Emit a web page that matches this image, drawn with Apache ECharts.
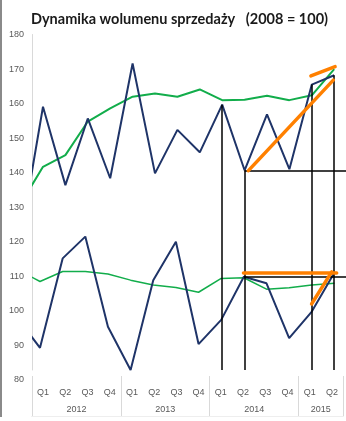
<!DOCTYPE html>
<html>
<head>
<meta charset="utf-8">
<script src="https://cdn.jsdelivr.net/npm/echarts@6/dist/echarts.min.js"></script>
<style>
  html, body { margin: 0; padding: 0; background: #fff; }
  #wrap { position: relative; width: 346px; height: 421px; }
  #chart { width: 346px; height: 421px; }
  #edge { position: absolute; left: 0; top: 0; width: 2px; height: 417px; background: #8a8a8a; }
</style>
</head>
<body>
<div id="wrap"><div id="chart"></div><div id="edge"></div></div>
<script>
// ---- data (first value in each series = 2011 Q4, only partly visible at the left edge) ----
const years = ['2012', '2013', '2014', '2015'];
const quartersPerYear = [4, 4, 4, 2];
const quarterNames = ['Q1', 'Q2', 'Q3', 'Q4'];
const yTicks = [80, 90, 100, 110, 120, 130, 140, 150, 160, 170, 180];

const upperIndex = [121, 159.1, 136.4, 155.7, 138.4, 171.6, 139.8, 152.4, 145.9, 159.7, 140.7, 156.9, 141.0, 165.5, 168.2];
const upperTrend = [131, 141.7, 145.1, 154.8, 158.6, 162.0, 162.9, 162.0, 164.1, 161.0, 161.1, 162.3, 161.0, 162.4, 170.0];
const lowerIndex = [98, 89.3, 115.2, 121.5, 95.4, 82.9, 108.9, 120.0, 90.4, 97.4, 109.9, 108.0, 92.1, 99.8, 111.1];
const lowerTrend = [112, 108.5, 111.4, 111.4, 110.7, 108.9, 107.5, 106.8, 105.4, 109.4, 109.6, 106.3, 106.7, 107.5, 108.0];

// annotations (quarter index, value); quarter index 0 = 2012 Q1
const dropQuarters = [8, 9, 12, 13];      // black drop lines from upper index
const plotFloor = 82.9;
const refQuarter = 9;                      // 2014 Q2 horizontal reference lines
const orangeUp   = [[9.17, 140.6], [12.96, 166.8]];
const orangeTop  = [[11.96, 168.0], [13.04, 170.7]];
const orangeFlat = [[8.95, 111.0], [13.11, 111.0]];
const orangeRise = [[11.99, 102.0], [12.89, 111.3]];

// ---- derived ----
const quarterLabels = [];
quartersPerYear.forEach(n => { for (let q = 0; q < n; q++) quarterLabels.push(quarterNames[q]); });
const nQ = quarterLabels.length;
const yearSlots = new Array(nQ * 2 + 1).fill('');
const yearBounds = [0];
let acc = 0;
quartersPerYear.forEach((n, k) => {
  yearSlots[acc * 2 + n] = years[k];
  acc += n;
  yearBounds.push(acc * 2);
});
const toXY = arr => arr.map((v, k) => [k - 1, v]);

const upMin = -0.446, upMax = 13.527;
const loMin = -0.309, loMax = 13.51;

const navy = '#1F3468';
const green = '#12AD4B';
const orange = '#FF8000';
const labelFont = { fontFamily: 'Liberation Sans', fontSize: 9, color: '#595959' };

const chart = echarts.init(document.getElementById('chart'), null, { renderer: 'canvas' });
chart.setOption({
  animation: false,
  backgroundColor: '#fff',
  title: {
    text: 'Dynamika wolumenu sprzedaży   (2008 = 100)',
    left: 26, top: 7,
    textStyle: { fontFamily: 'Lato', fontWeight: 'bold', fontSize: 14.5, color: '#1a1a1a' }
  },
  grid: [
    { left: 32, right: 0, top: 34.5, bottom: 41 },
    { left: 32, right: 0, top: 34.5, bottom: 51 },
    { left: 33, right: 0, top: 34.5, bottom: 41 },
    { left: 33, right: 0, top: 34.5, bottom: 41 },
    { left: 32, right: 0, top: 376, bottom: 5 }
  ],
  xAxis: [
    { gridIndex: 0, type: 'value', show: false },
    { gridIndex: 1, type: 'value', show: false },
    { gridIndex: 2, type: 'value', min: upMin, max: upMax, show: false },
    { gridIndex: 3, type: 'value', min: loMin, max: loMax, show: false },
    { gridIndex: 4, type: 'category', position: 'top', data: quarterLabels, boundaryGap: true,
      axisLine: { show: true, lineStyle: { color: '#e3e3e3', width: 1 } },
      axisTick: { show: false }, splitLine: { show: false },
      axisLabel: Object.assign({ inside: true, margin: 12, interval: 0 }, labelFont) },
    { gridIndex: 4, type: 'category', position: 'bottom', data: yearSlots, boundaryGap: false,
      axisLine: { show: true, lineStyle: { color: '#eeeeee', width: 1 } },
      axisTick: { show: false },
      splitLine: { show: true, interval: (i) => yearBounds.includes(i), lineStyle: { color: '#d9d9d9', width: 1 } },
      axisLabel: Object.assign({ inside: true, margin: 1.5, interval: 0 }, labelFont) }
  ],
  yAxis: [
    { gridIndex: 0, type: 'value', min: yTicks[0], max: yTicks[yTicks.length - 1], interval: yTicks[1] - yTicks[0],
      axisLine: { show: false }, axisTick: { show: false }, splitLine: { show: false },
      axisLabel: Object.assign({ margin: 8 }, labelFont) },
    { gridIndex: 1, type: 'value', axisLine: { show: true, lineStyle: { color: '#d9d9d9' } },
      axisTick: { show: false }, axisLabel: { show: false }, splitLine: { show: false } },
    { gridIndex: 2, type: 'value', min: 80, max: 180, show: false },
    { gridIndex: 3, type: 'value', min: 80, max: 180, show: false },
    { gridIndex: 4, type: 'value', show: false }
  ],
  series: [
    { type: 'line', name: 'upperTrend', xAxisIndex: 2, yAxisIndex: 2, data: toXY(upperTrend),
      symbol: 'none', lineStyle: { color: green, width: 2 }, z: 3 },
    { type: 'line', name: 'upperIndex', xAxisIndex: 2, yAxisIndex: 2, data: toXY(upperIndex),
      symbol: 'none', lineStyle: { color: navy, width: 2 }, z: 4 },
    { type: 'line', name: 'lowerTrend', xAxisIndex: 3, yAxisIndex: 3, data: toXY(lowerTrend),
      symbol: 'none', lineStyle: { color: green, width: 1.5 }, z: 3 },
    { type: 'line', name: 'lowerIndex', xAxisIndex: 3, yAxisIndex: 3, data: toXY(lowerIndex),
      symbol: 'none', lineStyle: { color: navy, width: 2 }, z: 4 },
    { type: 'lines', coordinateSystem: 'cartesian2d', xAxisIndex: 2, yAxisIndex: 2, z: 5,
      lineStyle: { color: '#000', width: 1.5, opacity: 1, curveness: 0 },
      data: dropQuarters.map(q => ({ coords: [[q, upperIndex[q + 1]], [q, plotFloor]] }))
        .concat([{ coords: [[refQuarter, upperIndex[refQuarter + 1]], [upMax, upperIndex[refQuarter + 1]]] }]) },
    { type: 'lines', coordinateSystem: 'cartesian2d', xAxisIndex: 3, yAxisIndex: 3, z: 5,
      lineStyle: { color: '#000', width: 1.5, opacity: 1, curveness: 0 },
      data: [{ coords: [[refQuarter, lowerIndex[refQuarter + 1]], [loMax, lowerIndex[refQuarter + 1]]] }] },
    { type: 'lines', coordinateSystem: 'cartesian2d', xAxisIndex: 2, yAxisIndex: 2, z: 6,
      lineStyle: { color: orange, width: 3.5, opacity: 1, curveness: 0, cap: 'round' },
      data: [orangeUp, orangeTop, orangeFlat, orangeRise].map(c => ({ coords: c })) }
  ]
});
</script>
</body>
</html>
